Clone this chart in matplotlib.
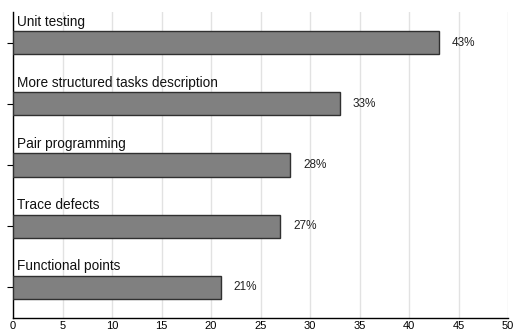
import matplotlib
matplotlib.use("Agg")
import matplotlib.pyplot as plt
import numpy as np

categories = ["Unit testing", "More structured tasks description", "Pair programming",
              "Trace defects", "Functional points"]
values = [43, 33, 28, 27, 21]
x_ticks = [0, 5, 10, 15, 20, 25, 30, 35, 40, 45, 50]

fig = plt.figure(figsize=(5.13, 3.30), dpi=100)
ax = fig.add_axes([13 / 513, 12 / 330, 495 / 513, 306 / 330])

pos = np.arange(len(categories))
ax.barh(pos, values, height=0.38, color="#808080", edgecolor="#303030", linewidth=1.0, zorder=3)

for p, cat, v in zip(pos, categories, values):
    ax.text(0.4, p - 0.23, cat, fontsize=9.8, family="Liberation Sans", color="#111111",
            ha="left", va="bottom")
    ax.text(v + 1.3, p, str(v) + "%", fontsize=8.5, family="Liberation Sans", color="#222222",
            ha="left", va="center")

ax.set_xlim(0, 50)
ax.set_ylim(len(categories) - 0.5, -0.5)
ax.set_xticks(x_ticks)
ax.set_xticklabels([str(t) for t in x_ticks], fontsize=8, family="Liberation Sans")
ax.set_yticks(pos)
ax.set_yticklabels([])
ax.tick_params(axis="x", length=0, pad=2)
ax.tick_params(axis="y", length=4, width=0.8)
ax.grid(axis="x", color="#e2e2e2", linewidth=1.0, zorder=0)
for s in ["top", "right"]:
    ax.spines[s].set_visible(False)
ax.spines["left"].set_linewidth(1.0)
ax.spines["bottom"].set_linewidth(1.0)

fig.savefig("out.png", dpi=100)
